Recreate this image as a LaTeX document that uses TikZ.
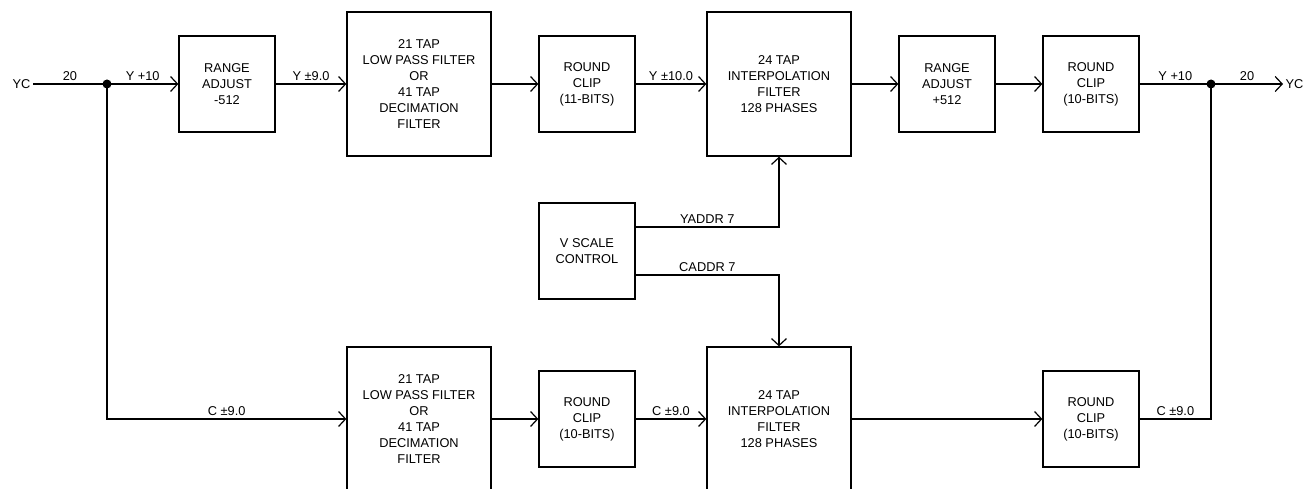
\documentclass[tikz,border=0pt]{standalone}
\usepackage{fontspec}
\setmainfont{Liberation Sans}
\usetikzlibrary{arrows.meta}

\begin{document}
\begin{tikzpicture}[x=1pt,y=-1pt,line width=1.2pt,
  blk/.style={draw,line width=1.3pt,minimum width=#1,minimum height=#1,align=center,inner sep=0pt,font=\fontsize{12.8}{16}\selectfont},
  arr/.style={-{Straight Barb[length=7pt,width=15pt,line width=1.2pt]}},
  lbl/.style={above,inner sep=2.5pt,font=\fontsize{12.8}{15}\selectfont},
  io/.style={inner sep=2pt,font=\fontsize{12.8}{15}\selectfont}]
\useasboundingbox (0,0) rectangle (1315,489);
\clip (0,0) rectangle (1315,489);

%Top row
\node[blk=96] (ra1) at (227,84) {RANGE\\ADJUST\\-512};
\node[blk=144] (lp1) at (419,84) {21 TAP\\LOW PASS FILTER\\OR\\41 TAP\\DECIMATION\\FILTER};
\node[blk=96] (rc1) at (587,84) {ROUND\\CLIP\\(11-BITS)};
\node[blk=144] (ip1) at (779,84) {24 TAP\\INTERPOLATION\\FILTER\\128 PHASES};
\node[blk=96] (ra2) at (947,84) {RANGE\\ADJUST\\+512};
\node[blk=96] (rc2) at (1091,84) {ROUND\\CLIP\\(10-BITS)};

%Middle
\node[blk=96] (vs) at (587,251) {V SCALE\\CONTROL};

%Bottom row
\node[blk=144] (lp2) at (419,419) {21 TAP\\LOW PASS FILTER\\OR\\41 TAP\\DECIMATION\\FILTER};
\node[blk=96] (rc3) at (587,419) {ROUND\\CLIP\\(10-BITS)};
\node[blk=144] (ip2) at (779,419) {24 TAP\\INTERPOLATION\\FILTER\\128 PHASES};
\node[blk=96] (rc4) at (1091,419) {ROUND\\CLIP\\(10-BITS)};

%In and out
\node[io,anchor=east] (yin) at (33,84) {YC};
\node[io,anchor=west] (yout) at (1283,84) {YC};
\coordinate (jl) at (107,84);
\coordinate (jr) at (1211,84);

\draw (yin) -- node[lbl]{20} (jl);
\draw[arr] (jl) -- node[lbl]{Y +10} (ra1);
\draw[arr] (ra1) -- node[lbl]{Y ±9.0} (lp1);
\draw[arr] (lp1) -- (rc1);
\draw[arr] (rc1) -- node[lbl]{Y ±10.0} (ip1);
\draw[arr] (ip1) -- (ra2);
\draw[arr] (ra2) -- (rc2);
\draw (rc2) -- node[lbl]{Y +10} (jr);
\draw[arr] (jr) -- node[lbl]{20} (yout);

\draw[arr] (jl) |- node[lbl,pos=0.75]{C ±9.0} (lp2);
\draw[arr] (lp2) -- (rc3);
\draw[arr] (rc3) -- node[lbl]{C ±9.0} (ip2);
\draw[arr] (ip2) -- (rc4);
\draw (rc4) -| node[lbl,pos=0.25]{C ±9.0} (jr);

\draw[arr] ([yshift=24pt]vs.east) -| node[lbl,pos=0.25]{YADDR 7} (ip1);
\draw[arr] ([yshift=-24pt]vs.east) -| node[lbl,pos=0.25]{CADDR 7} (ip2);

\fill (jl) circle (4.5pt);
\fill (jr) circle (4.5pt);
\end{tikzpicture}
\end{document}
